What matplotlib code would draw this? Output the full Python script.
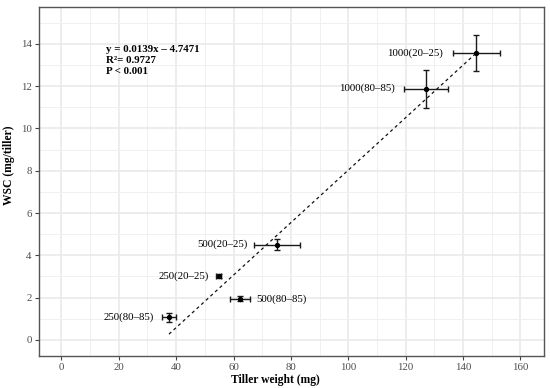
import matplotlib
matplotlib.use("Agg")
import matplotlib.pyplot as plt
import numpy as np
from matplotlib.ticker import MultipleLocator

labels = ["1000(20–25)", "1000(80–85)", "500(20–25)", "250(20–25)", "500(80–85)", "250(80–85)"]
tiller_weight = [144.6, 127.1, 75.3, 54.8, 62.4, 37.5]
tiller_weight_err = [8.2, 7.6, 8.0, 0.8, 3.5, 2.4]
wsc = [13.55, 11.88, 4.51, 3.03, 1.94, 1.07]
wsc_err = [0.85, 0.9, 0.24, 0.1, 0.12, 0.22]
label_side = ["left", "left", "left", "left", "right", "left"]
label_gap_px = [33, 31, 30, 10, 16, 15]

eq_lines = ["y = 0.0139x – 4.7471", "R²= 0.9727", "P < 0.001"]

plt.rcParams['font.family'] = ['Liberation Serif', 'DejaVu Serif']

fig = plt.figure(figsize=(5.5, 3.88), dpi=100)
ax = fig.add_axes([38.7/550, 1-356/388, (544-38.7)/550, (356-7)/388])

ax.set_xlim(-7.9, 168.2)
ax.set_ylim(-0.76, 15.74)
ax.xaxis.set_major_locator(MultipleLocator(20))
ax.xaxis.set_minor_locator(MultipleLocator(10))
ax.yaxis.set_major_locator(MultipleLocator(2))
ax.yaxis.set_minor_locator(MultipleLocator(1))
ax.grid(which='major', color='#E8E8E8', linewidth=1.1, zorder=0)
ax.grid(which='minor', color='#F0F0F0', linewidth=0.7, zorder=0)
ax.set_axisbelow(True)
for s in ax.spines.values():
    s.set_color('#555555')
    s.set_linewidth(1.0)
ax.tick_params(which='major', length=3, width=0.8, color='#444444', labelsize=7.8,
               labelcolor='#4D4D4D', pad=2)
ax.tick_params(which='minor', length=0)

# regression line fitted from the data
x = np.array(tiller_weight)
y = np.array(wsc)
k, b = np.polyfit(x, y, 1)
xs = np.array([x.min(), x.max()])
ax.plot(xs, k*xs + b, linestyle=(0, (2.5, 2.5)), color='#111111', linewidth=0.9, zorder=2)

ax.errorbar(x, y, xerr=tiller_weight_err, yerr=wsc_err, fmt='o', color='black',
            ecolor='#1a1a1a', elinewidth=1.0, capsize=2, capthick=1.0,
            markersize=2.8, zorder=3)

for xi, yi, lab, side, gap in zip(x, y, labels, label_side, label_gap_px):
    off = gap * 0.72
    if side == 'left':
        ax.annotate(lab, (xi, yi), xytext=(-off, 0), textcoords='offset points',
                    ha='right', va='center', fontsize=7.8, color='black')
    else:
        ax.annotate(lab, (xi, yi), xytext=(off, 0), textcoords='offset points',
                    ha='left', va='center', fontsize=7.8, color='black')

ax.text(15.5, 13.95, "\n".join(eq_lines), ha='left', va='top', fontsize=7.8,
        fontweight='bold', linespacing=1.3, color='black')

ax.set_xlabel("Tiller weight (mg)", fontsize=8.4, fontweight='bold')
ax.set_ylabel("WSC (mg/tiller)", fontsize=8.4, fontweight='bold')
ax.xaxis.set_label_coords(0.469, -0.052)
ax.yaxis.set_label_coords(-0.047, 0.547)

fig.savefig("out.png", dpi=100)
